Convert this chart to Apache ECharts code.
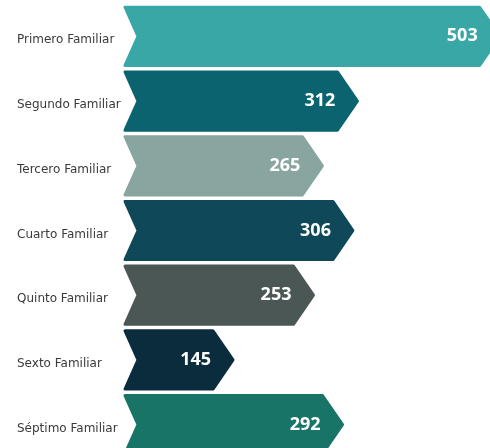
<!DOCTYPE html>
<html>
<head>
<meta charset="utf-8">
<script src="https://cdn.jsdelivr.net/npm/echarts@6/dist/echarts.min.js"></script>
<style>
  html, body { margin: 0; padding: 0; background: #fff; }
  #chart { width: 490px; height: 448px; }
</style>
</head>
<body>
<div id="chart"></div>
<script>
const categories = ['Primero Familiar', 'Segundo Familiar', 'Tercero Familiar', 'Cuarto Familiar', 'Quinto Familiar', 'Sexto Familiar', 'Séptimo Familiar'];
const values = [503, 312, 265, 306, 253, 145, 292];
const barColors = ['#38a7a6', '#0b6370', '#89a5a0', '#0f4858', '#4a5754', '#0b2c3d', '#187466'];

const chart = echarts.init(document.getElementById('chart'));

// dibuja cada barra como una flecha con muesca a la izquierda
const renderArrow = (params, api) => {
  const idx = api.value(1);
  const tip = api.coord([api.value(0), idx]);
  const start = api.coord([0, idx]);
  const h = api.size([0, 1])[1] * 0.9;
  const x0 = start[0];
  const x1 = tip[0];
  const yc = tip[1];
  const top = yc - h / 2;
  const bot = yc + h / 2;
  const notch = 13;
  const head = 20;
  const color = barColors[idx];
  return {
    type: 'group',
    children: [
      {
        type: 'polygon',
        shape: {
          points: [[x0, top], [x1 - head, top], [x1, yc], [x1 - head, bot], [x0, bot], [x0 + notch, yc]]
        },
        style: { fill: color, stroke: color, lineWidth: 3, lineJoin: 'round' }
      },
      {
        type: 'text',
        x: x1 - 22,
        y: yc,
        style: {
          text: String(api.value(0)),
          fill: '#fff',
          font: 'bold 18px "Open Sans"',
          align: 'right',
          verticalAlign: 'middle'
        }
      }
    ]
  };
};

chart.setOption({
  animation: false,
  grid: { left: 125, right: 0, top: 4, bottom: -9, containLabel: false, outerBoundsMode: 'none' },
  xAxis: { type: 'value', min: 0, max: 490, show: false },
  yAxis: {
    type: 'category',
    data: categories,
    inverse: true,
    axisLine: { show: false },
    axisTick: { show: false },
    splitLine: { show: false },
    axisLabel: {
      interval: 0,
      align: 'left',
      verticalAlign: 'top',
      lineHeight: 8,
      margin: 108,
      color: '#3a3a3a',
      fontFamily: 'DejaVu Sans',
      fontSize: 12
    }
  },
  series: [{
    type: 'custom',
    renderItem: renderArrow,
    clip: false,
    data: values.map((v, i) => [v, i])
  }]
});
</script>
</body>
</html>
